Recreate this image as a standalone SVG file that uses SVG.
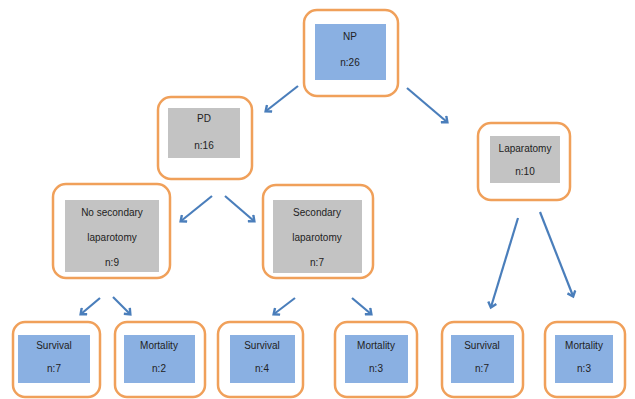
<svg xmlns="http://www.w3.org/2000/svg" width="635" height="399" viewBox="0 0 635 399">
<style>
.o{fill:#fff;stroke:#F0A05A;stroke-width:2.5}
.b{fill:#8AB0E2}
.g{fill:#C3C3C3}
text{font-family:"Liberation Sans",Arial,sans-serif;font-size:10px;fill:#222;text-anchor:middle;dominant-baseline:central}
.c line{stroke:#4A7EBB;stroke-width:2.2;marker-end:url(#a)}
</style>
<defs>
<marker id="a" markerWidth="10" markerHeight="10" refX="6" refY="5" orient="auto" markerUnits="userSpaceOnUse" viewBox="0 0 10 10">
<path d="M1.5,0.8 L6.5,5 L1.5,9.2" fill="none" stroke="#4A7EBB" stroke-width="2.4"/>
</marker>
</defs>
<rect width="635" height="399" fill="#fff"/>
<g id="np"><rect class="o" x="304" y="10" width="94" height="86" rx="13"/><rect class="b" x="315" y="24" width="71" height="56"/><text x="350" y="36">NP</text><text x="350" y="62">n:26</text></g>
<g id="pd"><rect class="o" x="158" y="97" width="94" height="82" rx="13"/><rect class="g" x="168" y="108" width="72" height="50"/><text x="204" y="118">PD</text><text x="204" y="145">n:16</text></g>
<g id="lap"><rect class="o" x="478" y="123" width="92" height="77" rx="13"/><rect class="g" x="490" y="136" width="70" height="47"/><text x="525" y="148">Laparatomy</text><text x="525" y="171">n:10</text></g>
<g id="nosec"><rect class="o" x="53" y="184" width="117" height="94" rx="13"/><rect class="g" x="65" y="200" width="94" height="72"/><text x="112" y="212">No secondary</text><text x="112" y="237">laparotomy</text><text x="112" y="262">n:9</text></g>
<g id="sec"><rect class="o" x="263" y="185" width="110" height="93" rx="13"/><rect class="g" x="273" y="200" width="89" height="73"/><text x="317" y="212">Secondary</text><text x="317" y="237">laparotomy</text><text x="317" y="262">n:7</text></g>
<g id="s1"><rect class="o" x="13" y="322" width="87" height="75" rx="12"/><rect class="b" x="18" y="335" width="72" height="48"/><text x="54" y="345">Survival</text><text x="54" y="368">n:7</text></g>
<g id="m1"><rect class="o" x="115" y="322" width="90" height="75" rx="12"/><rect class="b" x="124" y="335" width="71" height="48"/><text x="159" y="345">Mortality</text><text x="159" y="368">n:2</text></g>
<g id="s2"><rect class="o" x="218" y="322" width="85" height="75" rx="12"/><rect class="b" x="230" y="335" width="65" height="48"/><text x="262" y="345">Survival</text><text x="262" y="368">n:4</text></g>
<g id="m2"><rect class="o" x="335" y="322" width="82" height="75" rx="12"/><rect class="b" x="345" y="335" width="63" height="48"/><text x="376" y="345">Mortality</text><text x="376" y="368">n:3</text></g>
<g id="s3"><rect class="o" x="442" y="322" width="81" height="75" rx="12"/><rect class="b" x="451" y="335" width="63" height="48"/><text x="482" y="345">Survival</text><text x="482" y="368">n:7</text></g>
<g id="m3"><rect class="o" x="545" y="322" width="80" height="75" rx="12"/><rect class="b" x="555" y="335" width="58" height="48"/><text x="584" y="345">Mortality</text><text x="584" y="368">n:3</text></g>
<g class="c" id="connectors">
<line x1="298" y1="86" x2="266" y2="111"/>
<line x1="407" y1="88" x2="447" y2="122"/>
<line x1="212" y1="196" x2="181" y2="221"/>
<line x1="225" y1="196" x2="254" y2="221"/>
<line x1="518" y1="218" x2="491" y2="307"/>
<line x1="540" y1="212" x2="573" y2="296"/>
<line x1="100" y1="298" x2="81" y2="314"/>
<line x1="113" y1="297" x2="130" y2="314"/>
<line x1="295" y1="298" x2="274" y2="314"/>
<line x1="352" y1="298" x2="371" y2="314"/>
</g>
</svg>
